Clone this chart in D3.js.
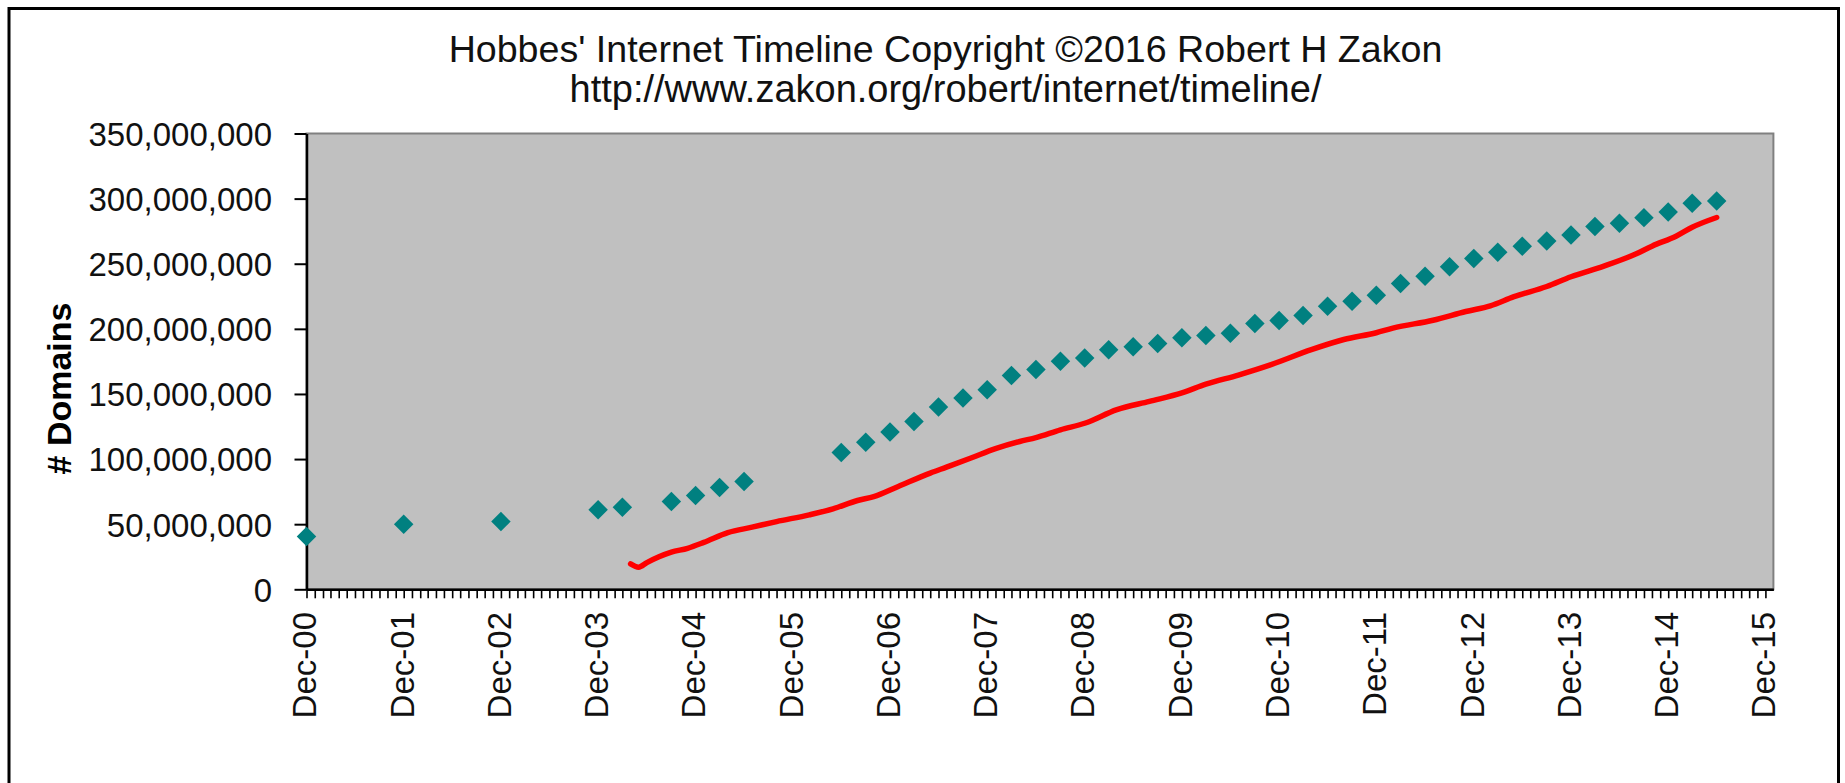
<!DOCTYPE html>
<html><head><meta charset="utf-8">
<script src="https://cdn.jsdelivr.net/npm/d3@7"></script>
<style>html,body{margin:0;padding:0;background:#fff;overflow:hidden}svg{display:block}</style>
</head><body><svg id="c" width="1845" height="783"></svg>
<script>
// ---- data ----
const titleLines = ["Hobbes' Internet Timeline Copyright \u00A92016 Robert H Zakon",
                    "http://www.zakon.org/robert/internet/timeline/"];
const yAxisTitle = "# Domains";
const yTickValues = [0, 50000000, 100000000, 150000000, 200000000, 250000000, 300000000, 350000000];
const xDomain = ["2000-12-01", "2015-12-31"];
const xLabelDates = ["2000-12-01","2001-12-01","2002-12-01","2003-12-01","2004-12-01","2005-12-01","2006-12-01","2007-12-01",
                     "2008-12-01","2009-12-01","2010-12-01","2011-12-01","2012-12-01","2013-12-01","2014-12-01","2015-12-01"];

// teal diamonds: total domains
const domainDates = ["2000-12","2001-12","2002-12","2003-12","2004-03","2004-09","2004-12","2005-03","2005-06",
  "2006-06","2006-09","2006-12","2007-03","2007-06","2007-09","2007-12","2008-03","2008-06","2008-09","2008-12",
  "2009-03","2009-06","2009-09","2009-12","2010-03","2010-06","2010-09","2010-12","2011-03","2011-06","2011-09","2011-12",
  "2012-03","2012-06","2012-09","2012-12","2013-03","2013-06","2013-09","2013-12","2014-03","2014-06","2014-09","2014-12",
  "2015-03","2015-06"];
const domainValues = [40.5e6,50e6,52e6,61e6,63e6,67.4e6,72e6,78.2e6,82.8e6,
  105e6,113e6,120.8e6,128.9e6,140e6,146.9e6,153.3e6,164.2e6,168.7e6,175.1e6,177.7e6,
  184e6,186.2e6,188.7e6,193.1e6,194.8e6,196.6e6,204.1e6,206.4e6,210.2e6,217.4e6,221.2e6,225.8e6,
  234.8e6,240.4e6,247.7e6,254.1e6,258.9e6,263.5e6,267.4e6,272e6,278.5e6,281e6,285.4e6,289.7e6,
  296.4e6,298.2e6];

// red line
const lineDates = ["2004-04","2004-05","2004-06","2004-09","2004-11","2005-01","2005-04","2005-07","2005-10","2006-02",
  "2006-05","2006-08","2006-10","2007-01","2007-05","2007-07","2007-10","2008-01","2008-04","2008-06","2008-09","2008-12",
  "2009-04","2009-08","2009-12","2010-03","2010-07","2010-11","2011-04","2011-08","2011-12","2012-02","2012-07","2012-11",
  "2013-02","2013-05","2013-09","2013-12","2014-04","2014-08","2014-10","2015-01","2015-03","2015-06"];
const lineValues = [19.5e6,17e6,20.5e6,28.5e6,31.5e6,36e6,43.5e6,47.7e6,52e6,57.2e6,
  61.8e6,68.2e6,71.2e6,79e6,89.2e6,93.8e6,100.8e6,108e6,113.5e6,116.5e6,122.5e6,127.5e6,
  137.9e6,144.3e6,150.8e6,157.5e6,164.5e6,172.5e6,184e6,191.8e6,197e6,200.5e6,206.6e6,213.3e6,
  217.7e6,224.7e6,232.5e6,240e6,248e6,257.4e6,263.5e6,271.3e6,278e6,285.5e6];

// ---- drawing ----
const svg = d3.select("#c");
const FONT = "'Liberation Sans', Arial, sans-serif";
const pDay = d3.utcParse("%Y-%m-%d"), pMon = d3.utcParse("%Y-%m");
const plot = {left: 306.5, right: 1773.4, top: 133.5, bottom: 589.3};

const x = d3.scaleUtc().domain(xDomain.map(pDay)).range([plot.left, plot.right]);
const y = d3.scaleLinear().domain([0, 350000000]).range([plot.bottom, plot.top]);

svg.append("rect").attr("width", 1845).attr("height", 783).attr("fill", "#fff");
// outer frame
svg.append("rect").attr("x", 9).attr("y", 8.5).attr("width", 1829.5).attr("height", 900)
  .attr("fill", "none").attr("stroke", "#000").attr("stroke-width", 3);

// plot area
svg.append("rect").attr("x", plot.left).attr("y", plot.top)
  .attr("width", plot.right - plot.left).attr("height", plot.bottom - plot.top)
  .attr("fill", "#C0C0C0").attr("stroke", "#808080").attr("stroke-width", 2);

// title
svg.append("g").selectAll("text").data(titleLines).join("text")
  .attr("x", 945.5).attr("y", (d, i) => i === 0 ? 62 : 102)
  .attr("text-anchor", "middle").attr("font-family", FONT).attr("font-size", (d, i) => i === 0 ? 37.6 : 38)
  .attr("fill", "#111").text(d => d);

// y axis
const yAxis = svg.append("g").attr("transform", `translate(${plot.left},0)`)
  .call(d3.axisLeft(y).tickValues(yTickValues).tickSize(12).tickSizeOuter(0).tickPadding(22.5)
        .tickFormat(d3.format(",")));
yAxis.select(".domain").attr("stroke", "#000").attr("stroke-width", 2.5);
yAxis.selectAll(".tick line").attr("stroke", "#000").attr("stroke-width", 2);
yAxis.selectAll(".tick text").attr("font-family", FONT).attr("font-size", 33).attr("fill", "#111").attr("dy", "0.36em");

// y title
svg.append("text").attr("transform", "translate(71,388.5) rotate(-90)")
  .attr("text-anchor", "middle").attr("font-family", FONT).attr("font-size", 34)
  .attr("font-weight", "bold").attr("fill", "#000").text(yAxisTitle);

// x axis monthly ticks
const months = d3.utcMonth.range(pDay(xDomain[0]), d3.utcDay.offset(pDay(xDomain[1]), 1));
const xAxis = svg.append("g").attr("transform", `translate(0,${plot.bottom})`)
  .call(d3.axisBottom(x).tickValues(months).tickSize(9).tickSizeOuter(0).tickFormat(""));
xAxis.select(".domain").attr("stroke", "#000").attr("stroke-width", 2.5);
xAxis.selectAll(".tick line").attr("stroke", "#000").attr("stroke-width", 1.6);

// x labels
const fmt = d3.utcFormat("%b-%y");
svg.append("g").selectAll("text").data(xLabelDates.map(pDay)).join("text")
  .attr("transform", d => `translate(${x(d) + 9.8},612) rotate(-90)`)
  .attr("text-anchor", "end").attr("font-family", FONT).attr("font-size", 33).attr("fill", "#111")
  .text(d => fmt(d));

// red line
const lineData = lineDates.map((d, i) => ({date: pMon(d), value: lineValues[i]}));
svg.append("path").datum(lineData)
  .attr("d", d3.line().x(d => x(d.date)).y(d => y(d.value)).curve(d3.curveMonotoneX))
  .attr("fill", "none").attr("stroke", "#FF0000").attr("stroke-width", 5.5)
  .attr("stroke-linecap", "round").attr("stroke-linejoin", "round");

// diamonds
const domData = domainDates.map((d, i) => ({date: pMon(d), value: domainValues[i]}));
svg.append("g").selectAll("path").data(domData).join("path")
  .attr("transform", d => `translate(${x(d.date)},${y(d.value)}) rotate(45)`)
  .attr("d", d3.symbol(d3.symbolSquare, 190))
  .attr("fill", "#008080");
</script></body></html>
